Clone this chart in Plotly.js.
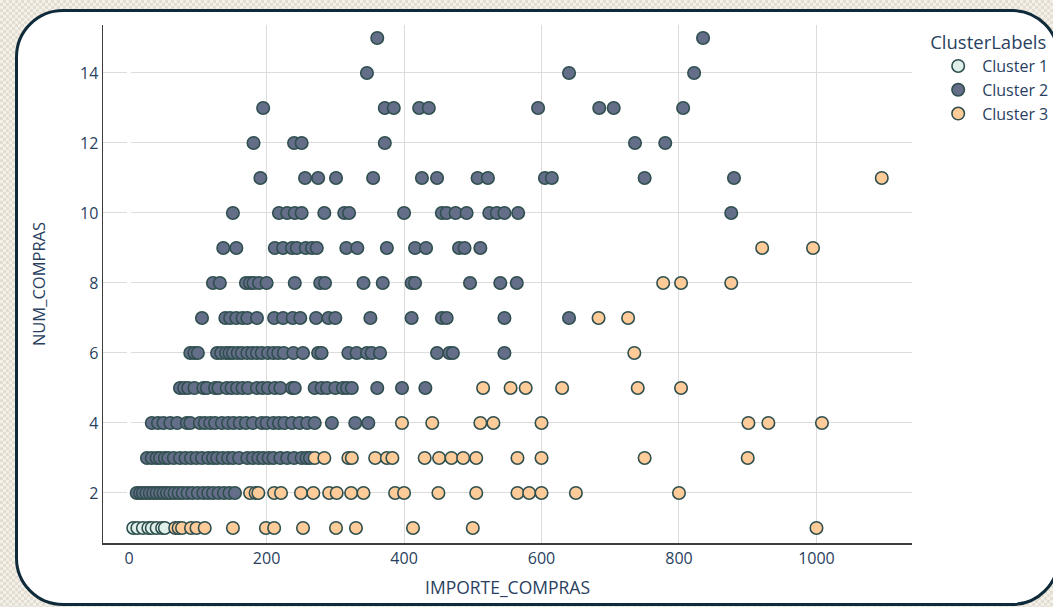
<!DOCTYPE html>
<html>
<head>
<meta charset="utf-8">
<script src="https://cdn.plot.ly/plotly-3.0.1.min.js"></script>
<style>
  html, body { margin: 0; padding: 0; width: 1053px; height: 607px; overflow: hidden; }
  body {
    background-color: #f3efe9;
    background-image:
      linear-gradient(45deg, #e4ddd2 25%, transparent 25%, transparent 75%, #e4ddd2 75%),
      linear-gradient(45deg, #e4ddd2 25%, transparent 25%, transparent 75%, #e4ddd2 75%);
    background-size: 6px 6px;
    background-position: 0 0, 3px 3px;
  }
  #frame {
    position: absolute; left: 15px; top: 9px; width: 1045px; height: 597px;
    box-sizing: border-box; border: 3px solid #0f2a3a; border-radius: 48px; background: #ffffff;
  }
  #chart { position: absolute; left: 0; top: 0; width: 1053px; height: 607px; }
</style>
</head>
<body>
<div id="frame"></div>
<div id="chart"></div>
<script>
// IMPORTE_COMPRAS values per NUM_COMPRAS row, per cluster
const cluster1_n1 = [6, 12, 20, 28, 33, 40, 48, 52];

const cluster2_n2 = [11, 16, 20, 25, 30, 35, 40, 45, 50, 55, 60, 66, 72, 78, 85, 92, 100, 108, 115, 122, 130, 138, 146, 154];
const cluster2_n3 = [26, 33, 40, 45, 52, 57, 65, 74, 82, 90, 98, 106, 115, 122, 128, 136, 144, 151, 160, 172, 180, 188, 195, 203, 210, 220, 230, 240, 251, 258, 263];
const cluster2_n4 = [33, 42, 50, 60, 70, 84, 89, 103, 110, 118, 125, 135, 144, 152, 161, 170, 180, 193, 200, 210, 218, 226, 237, 248, 259, 270, 295, 329, 348];
const cluster2_n5 = [74, 80, 86, 95, 108, 113, 125, 130, 142, 149, 157, 165, 173, 186, 194, 202, 212, 220, 237, 241, 270, 280, 288, 300, 311, 317, 324, 361, 397, 431];
const cluster2_n6 = [89, 95, 100, 128, 134, 141, 146, 151, 158, 164, 172, 179, 186, 193, 202, 210, 217, 225, 239, 253, 275, 280, 319, 331, 346, 353, 365, 448, 466, 471, 546];
const cluster2_n7 = [106, 140, 147, 156, 165, 172, 186, 211, 224, 238, 249, 272, 290, 300, 351, 411, 455, 462, 546, 640];
const cluster2_n8 = [122, 132, 170, 176, 181, 189, 200, 241, 278, 285, 341, 369, 411, 416, 496, 540, 564];
const cluster2_n9 = [137, 156, 212, 224, 237, 244, 257, 266, 273, 316, 332, 375, 416, 432, 480, 488, 511];
const cluster2_n10 = [151, 218, 230, 241, 251, 284, 313, 320, 400, 455, 462, 475, 491, 524, 535, 546, 566, 876];
const cluster2_n11 = [191, 256, 275, 301, 355, 426, 448, 507, 522, 605, 615, 750, 880];
const cluster2_n12 = [181, 240, 251, 372, 736, 780];
const cluster2_n13 = [195, 372, 385, 422, 436, 595, 684, 705, 806];
const cluster2_n14 = [346, 640, 822];
const cluster2_n15 = [361, 835];

const cluster3_n1 = [67, 72, 77, 90, 98, 110, 151, 199, 211, 253, 301, 330, 413, 500, 1000];
const cluster3_n2 = [176, 184, 188, 211, 221, 250, 268, 291, 302, 323, 341, 387, 400, 450, 505, 565, 582, 600, 650, 800];
const cluster3_n3 = [270, 284, 319, 324, 358, 375, 383, 430, 451, 469, 486, 505, 565, 600, 750, 900];
const cluster3_n4 = [397, 441, 511, 530, 600, 901, 930, 1008];
const cluster3_n5 = [515, 555, 577, 630, 740, 803];
const cluster3_n6 = [735];
const cluster3_n7 = [683, 726];
const cluster3_n8 = [777, 803, 876];
const cluster3_n9 = [921, 995];
const cluster3_n11 = [1095];

const clusterNames = ["Cluster 1", "Cluster 2", "Cluster 3"];
const clusterColors = ["#dff0eb", "#646e89", "#ffcb98"];

function build(rows) {
  const xs = [], ys = [];
  rows.forEach(([n, arr]) => arr.forEach(v => { xs.push(v); ys.push(n); }));
  return { x: xs, y: ys };
}

const groups = [
  build([[1, cluster1_n1]]),
  build([[2, cluster2_n2], [3, cluster2_n3], [4, cluster2_n4], [5, cluster2_n5], [6, cluster2_n6], [7, cluster2_n7],
         [8, cluster2_n8], [9, cluster2_n9], [10, cluster2_n10], [11, cluster2_n11], [12, cluster2_n12],
         [13, cluster2_n13], [14, cluster2_n14], [15, cluster2_n15]]),
  build([[1, cluster3_n1], [2, cluster3_n2], [3, cluster3_n3], [4, cluster3_n4], [5, cluster3_n5], [6, cluster3_n6],
         [7, cluster3_n7], [8, cluster3_n8], [9, cluster3_n9], [11, cluster3_n11]])
];

const traces = groups.map((g, i) => ({
  type: "scatter", mode: "markers", name: clusterNames[i],
  x: g.x, y: g.y,
  marker: { size: 12.5, color: clusterColors[i], line: { width: 1.6, color: "#2f4f4f" } }
}));

const fontColor = "#2a3f5f";
const layout = {
  width: 1053, height: 607,
  margin: { l: 103, r: 141, t: 25, b: 64, autoexpand: false },
  paper_bgcolor: "rgba(0,0,0,0)", plot_bgcolor: "rgba(0,0,0,0)",
  font: { family: "Open Sans, sans-serif", size: 16, color: fontColor },
  showlegend: true,
  legend: {
    title: { text: "ClusterLabels", font: { size: 18.5, color: fontColor } },
    font: { size: 16, color: fontColor },
    x: 1.02, y: 1, yanchor: "top", tracegroupgap: 0,
    indentation: 6, itemwidth: 38
  },
  xaxis: {
    range: [-38, 1139], dtick: 200, tick0: 0,
    showgrid: true, gridcolor: "#dcdcdc", gridwidth: 1,
    zeroline: true, zerolinecolor: "#ffffff", zerolinewidth: 4,
    showline: true, linecolor: "#3d3d3d", linewidth: 1.5,
    ticks: "", tickfont: { size: 16, color: fontColor },
    title: { text: "IMPORTE_COMPRAS", font: { size: 17.5, color: fontColor }, standoff: 14 }
  },
  yaxis: {
    range: [0.57, 15.37], dtick: 2, tick0: 0,
    showgrid: true, gridcolor: "#dcdcdc", gridwidth: 1,
    zeroline: false,
    showline: true, linecolor: "#3d3d3d", linewidth: 1.5,
    ticks: "", tickfont: { size: 16, color: fontColor },
    title: { text: "NUM_COMPRAS", font: { size: 16.5, color: fontColor }, standoff: 30 }
  }
};

Plotly.newPlot("chart", traces, layout, { displayModeBar: false, staticPlot: true });
</script>
</body>
</html>
